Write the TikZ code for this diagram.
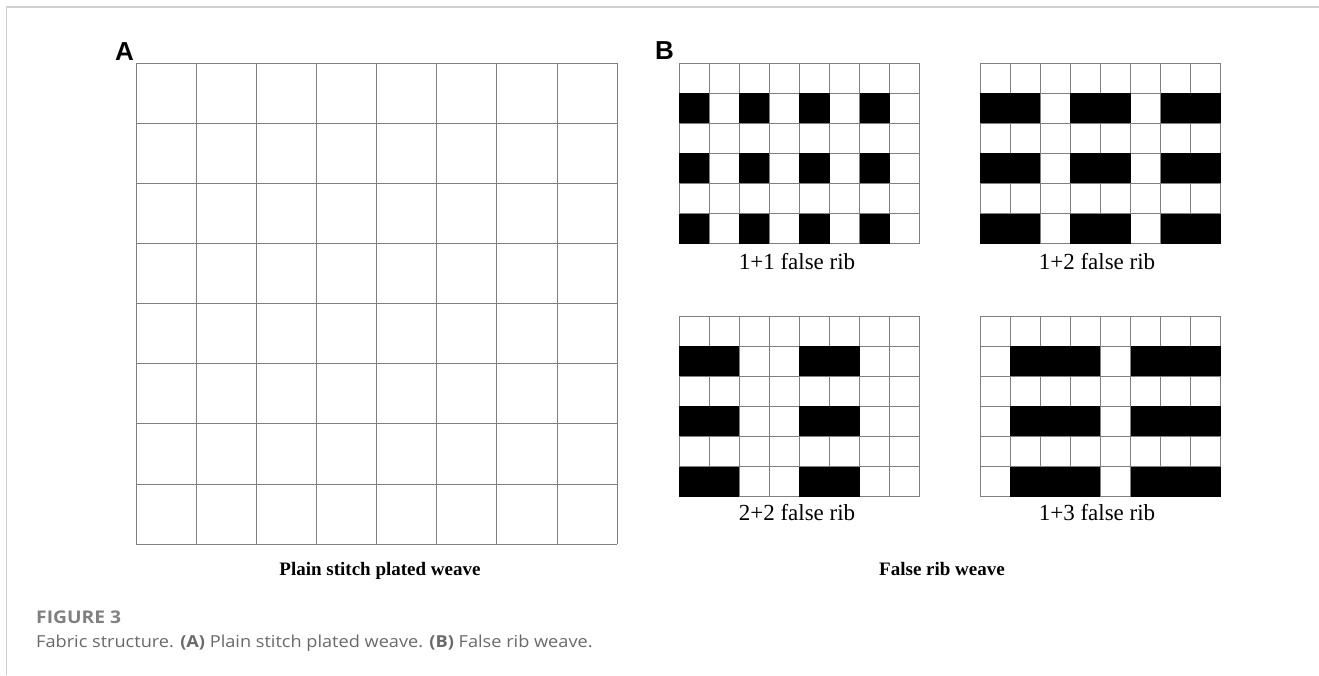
\documentclass[tikz,border=0pt]{standalone}
\usepackage{fontspec}
\setmainfont{Liberation Serif}
\newfontfamily\panelfont{Liberation Sans}
\newfontfamily\capfont[FakeStretch=1.1]{Open Sans}
\definecolor{gridgray}{RGB}{128,128,128}
\definecolor{rulegray}{RGB}{208,208,208}
\definecolor{capgray}{RGB}{105,105,105}

% 8x6 false rib chart, black stitches in rows 2, 4 and 6
\newcommand{\ribchart}[2]{%
  \begin{scope}[shift={#1}]
    \foreach \k in {0,...,8}
      \draw[cellline] ({30.1*\k},0) -- ++(0,180.6);
    \foreach \k in {0,...,6}
      \draw[cellline] (0,{30.1*\k}) -- ++(240.8,0);
    \foreach \row in {1,3,5}
      \foreach \col in {#2}
        \fill ({30.1*(\col-1)},{30.1*\row}) rectangle ++(30.1,30.1);
  \end{scope}}

\begin{document}
\begin{tikzpicture}[x=1pt,y=-1pt,
  cellline/.style={draw=gridgray, line width=1pt},
  panel/.style={font=\panelfont\bfseries\fontsize{26}{30}\selectfont, anchor=base west, inner sep=0pt},
  ribname/.style={font=\fontsize{23}{27}\selectfont, anchor=base, inner sep=0pt},
  weavename/.style={font=\bfseries\fontsize{19}{23}\selectfont, anchor=base, inner sep=0pt},
  capline/.style={font=\capfont\fontsize{16.5}{20}\selectfont, text=capgray, anchor=base west, inner sep=0pt}]
\useasboundingbox (0,0) rectangle (1319,675);
\draw[rulegray, line width=1.5pt] (1319,7) -- (6.5,7) -- (6.5,675);

% A: plain stitch plated weave
\begin{scope}[shift={(136,63)}]
  \foreach \k in {0,...,8} {
    \draw[cellline] ({60.15*\k},0) -- ++(0,481.2);
    \draw[cellline] (0,{60.15*\k}) -- ++(481.2,0);
  }
\end{scope}
\node[panel] (panelA) at (115,60) {A};
\node[weavename] (weaveA) at (380,575) {Plain stitch plated weave};

% B: false rib weaves
\ribchart{(679,63)}{1,3,5,7}
\ribchart{(980,63)}{1,2,4,5,7,8}
\ribchart{(679,316)}{1,2,5,6}
\ribchart{(980,316)}{2,3,4,6,7,8}
\node[panel] (panelB) at (655,59) {B};
\node[ribname] (rib11) at (797,269) {1+1 false rib};
\node[ribname] (rib12) at (1097,269) {1+2 false rib};
\node[ribname] (rib22) at (797,520) {2+2 false rib};
\node[ribname] (rib13) at (1097,520) {1+3 false rib};
\node[weavename] (weaveB) at (942,575) {False rib weave};

% caption
\node[capline, font=\capfont\bfseries\fontsize{17.5}{20}\selectfont, text=capgray!85] (fignum) at (36,623) {FIGURE 3};
\node[capline] (figtext) at (36,647) {Fabric structure. \textbf{(A)} Plain stitch plated weave. \textbf{(B)} False rib weave.};
\end{tikzpicture}
\end{document}
